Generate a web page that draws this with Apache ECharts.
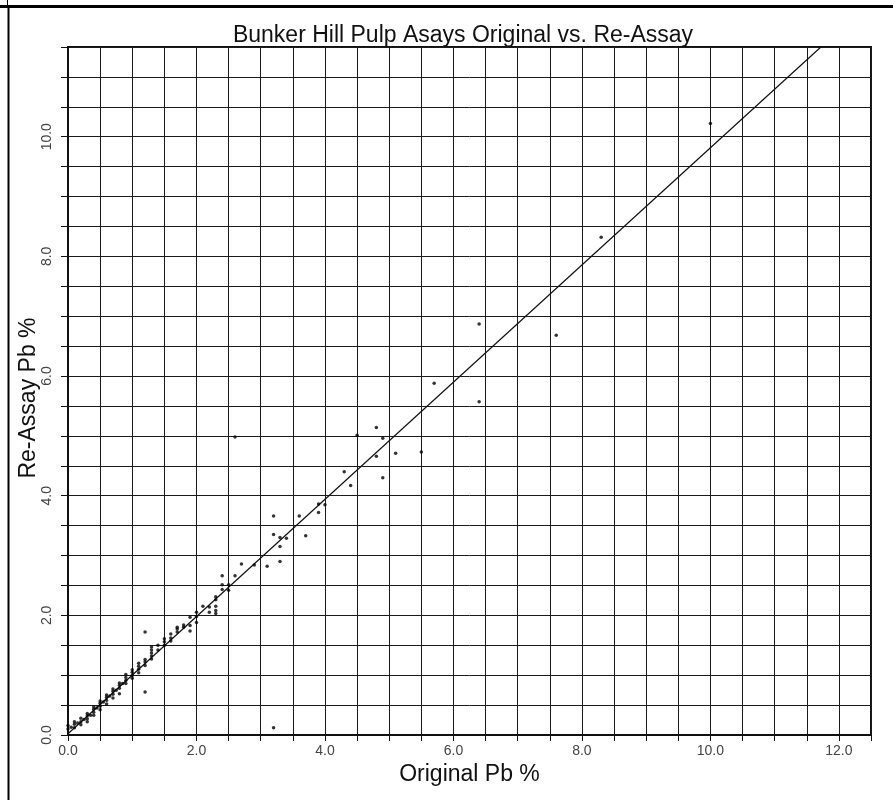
<!DOCTYPE html>
<html>
<head>
<meta charset="utf-8">
<script src="https://cdn.jsdelivr.net/npm/echarts@6/dist/echarts.min.js"></script>
<style>
html,body{margin:0;padding:0;background:#fff;}
#chart{width:893px;height:800px;}
</style>
</head>
<body>
<div id="chart"></div>
<script>
var titleText = 'Bunker Hill Pulp Asays Original vs. Re-Assay';
var xAxisName = 'Original Pb %';
var yAxisName = 'Re-Assay Pb %';

var originalPb = [
  0.0,0.0, 0.05, 0.1,0.1,0.1, 0.15, 0.2,0.2,0.2, 0.25,
  0.3,0.3,0.3,0.3, 0.35, 0.4,0.4,0.4,0.4, 0.45,
  0.5,0.5,0.5,0.5, 0.55, 0.6,0.6,0.6,0.6, 0.65,
  0.7,0.7,0.7,0.7, 0.75, 0.8,0.8,0.8,0.8, 0.85,
  0.9,0.9,0.9,0.9, 1.0,1.0,1.0,1.0, 1.1,1.1,1.1,1.1,
  1.2,1.2,1.2,1.2,1.2, 1.3,1.3,1.3,1.3,1.3, 1.4,1.4,
  1.5,1.5,1.5, 1.6,1.6,1.6, 1.7,1.7,1.7, 1.8,1.8,
  1.9,1.9,1.9, 2.0,2.0,2.0, 2.1, 2.2,2.2,
  2.3,2.3,2.3,2.3,2.3, 2.4,2.4,2.4, 2.5,2.5, 2.6,2.6,
  2.7, 2.9, 3.1, 3.2,3.2,3.2, 3.3,3.3,3.3, 3.4, 3.6, 3.7,
  3.9,3.9, 4.0, 4.3, 4.4, 4.5, 4.8,4.8, 4.9,4.9, 5.1, 5.5,
  5.7, 6.4,6.4, 7.6, 8.3, 10.0
];
var reAssayPb = [
  0.10,0.16, 0.13, 0.12,0.18,0.22, 0.20, 0.17,0.22,0.28, 0.26,
  0.22,0.27,0.32,0.36, 0.33, 0.33,0.38,0.43,0.47, 0.45,
  0.42,0.48,0.53,0.57, 0.55, 0.52,0.58,0.63,0.67, 0.65,
  0.62,0.68,0.73,0.77, 0.75, 0.69,0.78,0.83,0.87, 0.86,
  0.86,0.91,0.96,1.01, 0.95,1.00,1.05,1.09, 1.04,1.10,1.15,1.20,
  0.72,1.16,1.22,1.26,1.72, 1.27,1.32,1.37,1.42,1.47, 1.42,1.50,
  1.50,1.56,1.61, 1.57,1.62,1.69, 1.72,1.77,1.80, 1.80,1.84,
  1.74,1.83,1.97, 1.88,1.98,2.05, 2.15, 2.05,2.14,
  2.03,2.08,2.15,2.26,2.31, 2.43,2.51,2.66, 2.42,2.51, 2.66,4.98,
  2.86, 2.84, 2.82, 0.12,3.35,3.66, 2.90,3.15,3.30, 3.29, 3.66, 3.33,
  3.72,3.86, 3.85, 4.40, 4.17, 5.01, 4.66,5.14, 4.30,4.96, 4.71, 4.73,
  5.88, 5.57,6.87, 6.68, 8.32, 10.22
];

var fitX = [0.0, 11.72];
var fitY = [0.02, 11.5];

var xTickLabels = ['0.0','2.0','4.0','6.0','8.0','10.0','12.0'];
var yTickLabels = ['0.0','2.0','4.0','6.0','8.0','10.0'];

var points = originalPb.map(function(x, i){ return [x, reAssayPb[i]]; });
var fitLine = fitX.map(function(x, i){ return [x, fitY[i]]; });

function labelFmt(list){
  return function(v){
    var s = v.toFixed(1);
    return list.indexOf(s) >= 0 ? s : '';
  };
}

var chart = echarts.init(document.getElementById('chart'), null, {renderer:'canvas'});
var font = 'Liberation Sans, Arial, sans-serif';
chart.setOption({
  backgroundColor: '#ffffff',
  animation: false,
  title: {
    text: titleText,
    left: 458,
    top: 19,
    textAlign: 'center',
    textStyle: {fontFamily: font, fontSize: 23, fontWeight: 'normal', color: '#111'}
  },
  grid: {
    left: 68, right: 22, top: 47, bottom: 65,
    show: true, borderColor: '#111', borderWidth: 2, backgroundColor: '#fff'
  },
  xAxis: {
    type: 'value', min: 0, max: 12.5, interval: 0.5,
    name: xAxisName, nameLocation: 'middle', nameGap: 28,
    nameTextStyle: {fontFamily: font, fontSize: 23, color: '#111'},
    axisLine: {show: true, onZero: false, lineStyle: {color: '#111', width: 2}},
    axisTick: {show: true, length: 6, lineStyle: {color: '#111', width: 1}},
    axisLabel: {formatter: labelFmt(xTickLabels), fontFamily: font, fontSize: 14, color: '#444', margin: 9, showMaxLabel: true, showMinLabel: true},
    splitLine: {show: true, lineStyle: {color: '#1a1a1a', width: 1}}
  },
  yAxis: {
    type: 'value', min: 0, max: 11.5, interval: 0.5,
    axisLine: {show: true, onZero: false, lineStyle: {color: '#111', width: 2}},
    axisTick: {show: true, length: 7, lineStyle: {color: '#111', width: 1}},
    axisLabel: {formatter: labelFmt(yTickLabels), rotate: 90, fontFamily: font, fontSize: 14, color: '#444', margin: 14},
    splitLine: {show: true, lineStyle: {color: '#1a1a1a', width: 1}}
  },
  series: [
    {
      type: 'line', data: fitLine, showSymbol: false, symbol: 'none',
      lineStyle: {color: '#111', width: 1.2}, z: 3, silent: true
    },
    {
      type: 'scatter', data: points, symbol: 'circle', symbolSize: 3.5,
      itemStyle: {color: '#000'}, z: 4
    }
  ],
  graphic: [
    {type: 'line', shape: {x1: 0, y1: 6.5, x2: 893, y2: 6.5}, style: {stroke: '#000', lineWidth: 3}},
    {type: 'line', shape: {x1: 8.5, y1: 6, x2: 8.5, y2: 800}, style: {stroke: '#000', lineWidth: 2}},
    {type: 'line', shape: {x1: 7.5, y1: 0, x2: 7.5, y2: 6}, style: {stroke: '#000', lineWidth: 1}},
    {type: 'text', x: 29, y: 398, rotation: Math.PI / 2,
     style: {text: yAxisName, fontFamily: font, fontSize: 23, fill: '#111', textAlign: 'center', textVerticalAlign: 'middle'}}
  ]
});
</script>
</body>
</html>
